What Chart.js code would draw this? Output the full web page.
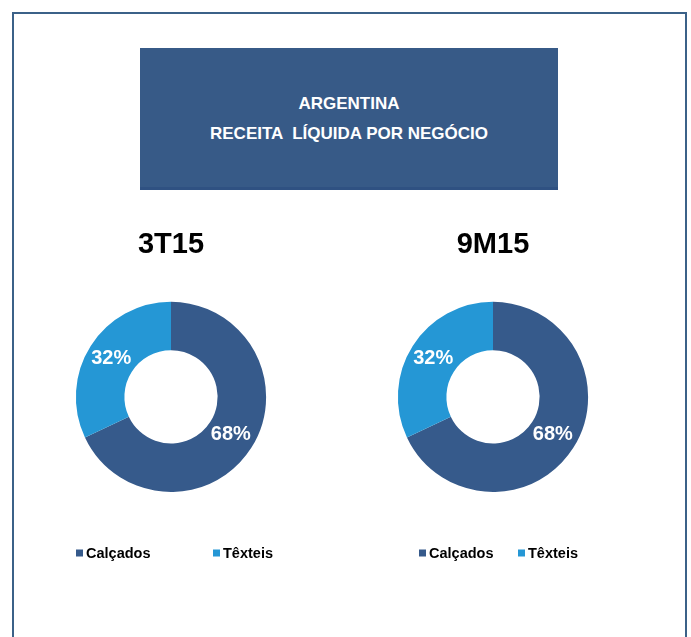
<!DOCTYPE html>
<html>
<head>
<meta charset="utf-8">
<script src="https://cdn.jsdelivr.net/npm/chart.js@4.4.0/dist/chart.umd.min.js"></script>
<style>
  html, body { margin: 0; padding: 0; background: #ffffff; }
  body { width: 691px; height: 637px; position: relative; overflow: hidden; font-family: "Liberation Sans", Arial, sans-serif; }
  #frame { position: absolute; left: 12px; top: 12px; width: 671px; height: 660px; border: 2px solid #3b6188; border-bottom: none; box-sizing: content-box; }
  #banner { position: absolute; left: 140px; top: 48px; width: 418px; height: 142px; background: #375a87; border-bottom: 3px solid #2f5182; box-sizing: border-box; color: #ffffff; text-align: center; font-weight: bold; font-size: 17px; }
  #banner .l1 { position: absolute; left: 0; right: 0; top: 47px; line-height: 18px; }
  #banner .l2 { position: absolute; left: 0; right: 0; top: 77px; line-height: 18px; white-space: pre; }
  .box { position: absolute; top: 215px; width: 300px; height: 360px; }
  #c1 { left: 21px; }
  #c2 { left: 343px; }
</style>
</head>
<body>
<div id="frame"></div>
<div id="banner"><div class="l1">ARGENTINA</div><div class="l2">RECEITA  LÍQUIDA POR NEGÓCIO</div></div>
<div class="box" id="c1"><canvas id="chart1"></canvas></div>
<div class="box" id="c2"><canvas id="chart2"></canvas></div>
<script>
const categories = ["Calçados", "Têxteis"];
const periods = ["3T15", "9M15"];
const values3T15 = [68, 32];
const values9M15 = [68, 32];
const colors = ["#365a8b", "#2597d5"];

const FONT = '"Liberation Sans", Arial, sans-serif';

const pctLabels = {
  id: 'pctLabels',
  afterDatasetsDraw(chart) {
    const ctx = chart.ctx;
    const ds = chart.data.datasets[0];
    const total = ds.data.reduce((a, b) => a + b, 0);
    const meta = chart.getDatasetMeta(0);
    ctx.save();
    ctx.fillStyle = '#ffffff';
    ctx.font = 'bold 20px ' + FONT;
    ctx.textAlign = 'center';
    ctx.textBaseline = 'middle';
    meta.data.forEach((arc, i) => {
      const p = arc.tooltipPosition();
      ctx.fillText(Math.round(ds.data[i] / total * 100) + '%', p.x, p.y);
    });
    ctx.restore();
  }
};

const sideLegend = {
  id: 'sideLegend',
  afterDraw(chart, args, opts) {
    const ctx = chart.ctx;
    const area = chart.chartArea;
    const cx = (area.left + area.right) / 2;
    const y = area.bottom + opts.dy;
    const colorsArr = chart.data.datasets[0].backgroundColor;
    ctx.save();
    ctx.font = 'bold 14.5px ' + FONT;
    ctx.textBaseline = 'middle';
    ctx.textAlign = 'left';
    chart.data.labels.forEach((lab, i) => {
      const x = cx + opts.offsets[i];
      ctx.fillStyle = colorsArr[i];
      ctx.fillRect(x, y - 3.5, 7, 7);
      ctx.fillStyle = '#000000';
      ctx.fillText(lab, x + 10, y + 0.5);
    });
    ctx.restore();
  }
};

function makeChart(id, title, values, offsets) {
  return new Chart(document.getElementById(id), {
    type: 'doughnut',
    data: {
      labels: categories,
      datasets: [{ data: values, backgroundColor: colors, borderWidth: 0, hoverOffset: 0 }]
    },
    options: {
      responsive: true,
      maintainAspectRatio: false,
      animation: false,
      cutout: '49%',
      layout: { padding: { top: 0, bottom: 83, left: 0, right: 0 } },
      plugins: {
        legend: { display: false },
        tooltip: { enabled: false },
        title: {
          display: true,
          text: title,
          color: '#000000',
          font: { family: FONT, size: 29, weight: 'bold', lineHeight: 1.2 },
          padding: { top: 13, bottom: 39 }
        },
        sideLegend: { offsets: offsets, dy: 61 }
      }
    },
    plugins: [pctLabels, sideLegend]
  });
}

makeChart('chart1', periods[0], values3T15, [-95, 42]);
makeChart('chart2', periods[1], values9M15, [-74, 25]);
</script>
</body>
</html>
